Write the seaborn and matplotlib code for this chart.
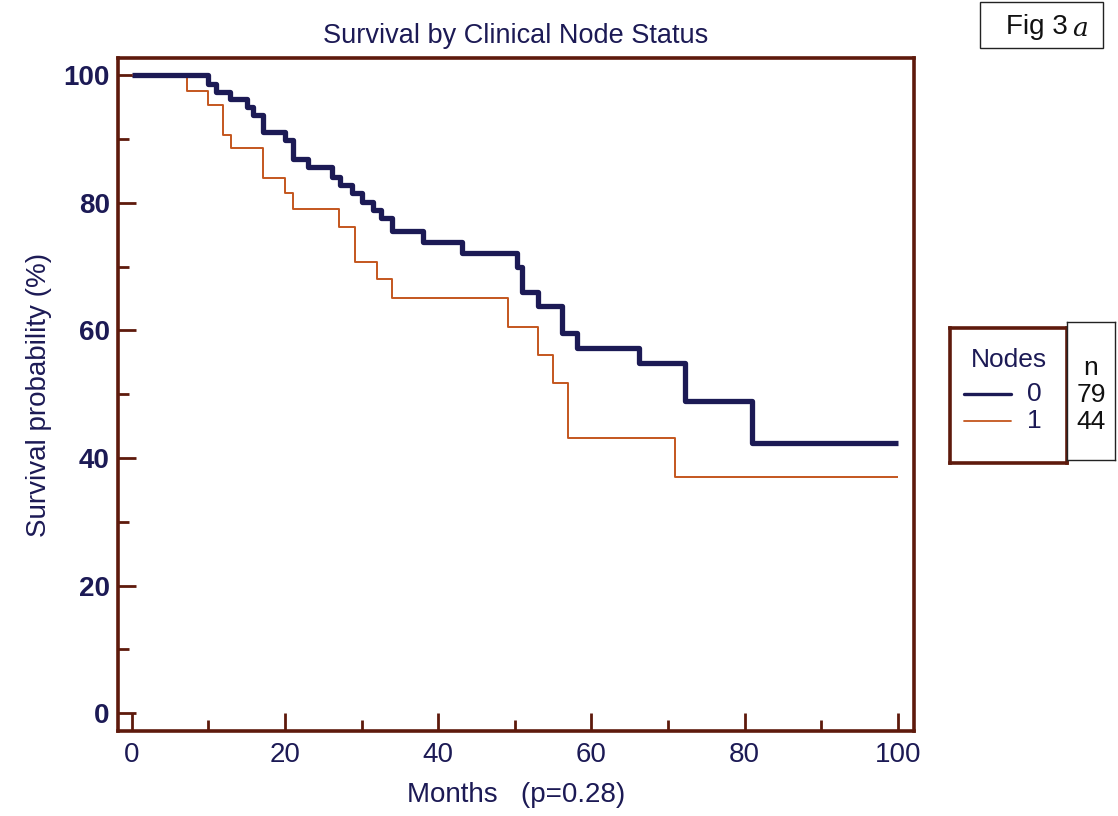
import matplotlib
matplotlib.use("Agg")
import matplotlib.pyplot as plt
import pandas as pd
import seaborn as sns
from matplotlib.lines import Line2D
from matplotlib.patches import Rectangle

sns.set_style("white")
plt.rcParams["font.family"] = ["Liberation Sans", "DejaVu Sans"]

NAVY = "#1c1a55"
ORANGE = "#c4561e"
MAROON = "#5e1a0c"

# Kaplan-Meier steps (months, survival %)
months_n0 = [0, 10.0, 11.0, 12.8, 15.0, 15.8, 17.1, 20.0, 21.1, 23.0, 26.1,
             27.2, 28.8, 30.0, 31.5, 32.5, 33.9, 38.0, 43.1, 50.3, 50.9,
             53.0, 56.1, 58.1, 66.2, 72.2, 80.9, 100]
surv_n0 = [100, 98.6, 97.4, 96.3, 95.0, 93.7, 91.1, 89.8, 86.9, 85.6, 84.1,
           82.8, 81.5, 80.2, 78.9, 77.6, 75.6, 73.9, 72.1, 69.9, 66.0,
           63.9, 59.6, 57.3, 54.9, 48.9, 42.3, 42.3]

months_n1 = [0, 7.2, 9.9, 11.9, 13.0, 17.1, 20.0, 21.0, 27.0, 29.1, 32.0,
             34.0, 49.1, 53.0, 55.0, 57.0, 70.9, 100]
surv_n1 = [100, 97.6, 95.3, 90.6, 88.6, 83.9, 81.5, 79.1, 76.2, 70.7, 68.0,
           65.0, 60.5, 56.1, 51.7, 43.2, 37.0, 37.0]

groups = ["0", "1"]
counts = [79, 44]

df = pd.concat([
    pd.DataFrame({"Months": months_n0, "Survival": surv_n0, "Nodes": "0"}),
    pd.DataFrame({"Months": months_n1, "Survival": surv_n1, "Nodes": "1"}),
])

W, H = 1118, 816
fig = plt.figure(figsize=(W / 100, H / 100), dpi=100)
ax = fig.add_axes([118 / W, 1 - 731 / H, (914 - 118) / W, (731 - 58) / H])

sns.lineplot(data=df, x="Months", y="Survival", hue="Nodes", size="Nodes",
             palette={"0": NAVY, "1": ORANGE}, sizes={"0": 3.8, "1": 1.4},
             estimator=None, drawstyle="steps-post", legend=False, ax=ax)
lines = ax.get_lines()
for ln in lines:
    ln.set_solid_capstyle("butt")
lines[0].set_zorder(4)

ax.set_xlim(-1.8, 102.1)
ax.set_ylim(-2.8, 102.7)
ax.set_xticks(range(0, 101, 20))
ax.set_xticks(range(10, 100, 20), minor=True)
ax.set_yticks(range(0, 101, 20))
ax.set_yticks(range(10, 100, 20), minor=True)
ax.tick_params(which="both", bottom=True, left=True, top=False, right=False,
               direction="in", color=MAROON, width=2,
               labelsize=20, labelcolor=NAVY)
ax.tick_params(which="major", length=13)
ax.tick_params(which="minor", length=8)
ax.tick_params(axis="x", pad=8)
ax.tick_params(axis="y", pad=6)
for lbl in ax.get_yticklabels():
    lbl.set_fontweight("bold")
for s in ax.spines.values():
    s.set_color(MAROON)
    s.set_linewidth(2.6)

ax.set_xlabel("Months   (p=0.28)", fontsize=20, color=NAVY, labelpad=10)
ax.set_ylabel("Survival probability (%)", fontsize=20, color=NAVY, labelpad=8)
ax.set_title("Survival by Clinical Node Status", fontsize=19.5, color=NAVY, pad=11)

# legend box
lax = fig.add_axes([950 / W, 1 - 463 / H, 117 / W, 135 / H])
lax.set_xlim(0, 1)
lax.set_ylim(0, 1)
lax.set_xticks([])
lax.set_yticks([])
for s in lax.spines.values():
    s.set_color(MAROON)
    s.set_linewidth(2.6)
lax.text(0.5, 0.76, "Nodes", ha="center", va="center", fontsize=19, color=NAVY)
for i, (g, c, lw) in enumerate(zip(groups, [NAVY, ORANGE], [2.4, 1.3])):
    y = 0.51 - i * 0.2
    lax.add_line(Line2D([0.12, 0.52], [y, y], color=c, lw=lw))
    lax.text(0.72, y, g, ha="center", va="center", fontsize=19, color=NAVY)

# n column
nax = fig.add_axes([1067 / W, 1 - 460 / H, 48 / W, 138 / H])
nax.set_xticks([])
nax.set_yticks([])
for s in nax.spines.values():
    s.set_color("#222222")
    s.set_linewidth(1)
nax.text(0.5, 0.67, "n", ha="center", va="center", fontsize=19, color="#111111",
         transform=nax.transAxes)
for i, n in enumerate(counts):
    nax.text(0.5, 0.47 - i * 0.195, str(n), ha="center", va="center",
             fontsize=19, color="#111111", transform=nax.transAxes)

# figure tag
fig.patches.append(Rectangle((980 / W, 1 - 48 / H), 123 / W, 46 / H,
                             transform=fig.transFigure, fill=False,
                             edgecolor="#222222", lw=1))
fig.text(1068 / W, 1 - 27 / H, "Fig 3", ha="right", va="center", fontsize=20,
         color="#111111")
fig.text(1072 / W, 1 - 29 / H, "a", ha="left", va="center", fontsize=19,
         style="italic", color="#111111", family="DejaVu Serif")

fig.savefig("out.png", dpi=100, facecolor="white")
